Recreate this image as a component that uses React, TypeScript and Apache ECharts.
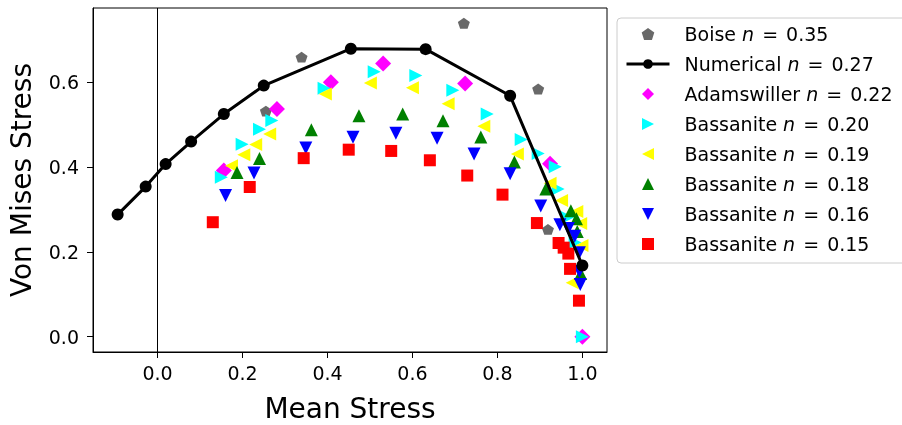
import React, { useEffect, useRef } from "react";
import * as echarts from "echarts";

// ---------- data ----------
const boiseX = [0.255, 0.339, 0.721, 0.896, 0.919];
const boiseY = [0.532, 0.659, 0.739, 0.584, 0.253];

const numericalX = [-0.094, -0.028, 0.019, 0.079, 0.156, 0.25, 0.455, 0.631, 0.83, 1.0];
const numericalY = [0.288, 0.354, 0.407, 0.46, 0.525, 0.592, 0.679, 0.678, 0.568, 0.168];

const adamsX = [0.156, 0.281, 0.408, 0.531, 0.724, 0.924, 1.0];
const adamsY = [0.392, 0.537, 0.6, 0.644, 0.597, 0.408, 0.0];

const bas20X = [0.15, 0.199, 0.24, 0.269, 0.392, 0.51, 0.608, 0.695, 0.776, 0.856, 0.896, 0.936, 0.943, 0.965, 0.983, 1.0];
const bas20Y = [0.376, 0.454, 0.489, 0.51, 0.586, 0.625, 0.616, 0.581, 0.525, 0.465, 0.432, 0.401, 0.348, 0.281, 0.222, 0.0];

const bas19X = [0.174, 0.203, 0.231, 0.264, 0.395, 0.501, 0.6, 0.684, 0.768, 0.847, 0.924, 0.951, 0.987, 0.996, 0.999, 0.976];
const bas19Y = [0.403, 0.429, 0.453, 0.478, 0.572, 0.598, 0.587, 0.549, 0.496, 0.431, 0.362, 0.321, 0.295, 0.267, 0.215, 0.127];

const bas18X = [0.187, 0.24, 0.362, 0.474, 0.577, 0.672, 0.761, 0.84, 0.914, 0.973, 0.986, 0.988, 0.996];
const bas18Y = [0.387, 0.42, 0.488, 0.521, 0.525, 0.509, 0.471, 0.412, 0.348, 0.297, 0.278, 0.248, 0.149];

const bas16X = [0.16, 0.227, 0.349, 0.46, 0.561, 0.658, 0.745, 0.83, 0.902, 0.947, 0.967, 0.982, 0.993, 0.993, 0.995];
const bas16Y = [0.333, 0.386, 0.445, 0.47, 0.48, 0.468, 0.431, 0.384, 0.308, 0.264, 0.255, 0.237, 0.198, 0.154, 0.123];

const bas15X = [0.13, 0.217, 0.344, 0.45, 0.55, 0.641, 0.729, 0.812, 0.893, 0.944, 0.956, 0.967, 0.971, 0.992];
const bas15Y = [0.27, 0.353, 0.421, 0.441, 0.438, 0.416, 0.38, 0.335, 0.268, 0.221, 0.21, 0.196, 0.16, 0.085];

const xTicks = [0.0, 0.2, 0.4, 0.6, 0.8, 1.0];
const yTicks = [0.0, 0.2, 0.4, 0.6];

const seriesNames = [
  "Boise n = 0.35",
  "Numerical n = 0.27",
  "Adamswiller n = 0.22",
  "Bassanite n = 0.20",
  "Bassanite n = 0.19",
  "Bassanite n = 0.18",
  "Bassanite n = 0.16",
  "Bassanite n = 0.15",
];

// ---------- styling ----------
const FONT = "DejaVu Sans";
const PENTAGON = "path://M0,-1L-0.951,-0.309L-0.588,0.809L0.588,0.809L0.951,-0.309Z";
const TRI_RIGHT = "path://M1,0L-1,-1L-1,1Z";
const TRI_LEFT = "path://M-1,0L1,-1L1,1Z";
const TRI_UP = "path://M0,-1L1,1L-1,1Z";
const TRI_DOWN = "path://M0,1L1,-1L-1,-1Z";
const DIAMOND = "path://M0,-1L1,0L0,1L-1,0Z";
const SQUARE = "path://M-1,-1L1,-1L1,1L-1,1Z";

const zip = (xs: number[], ys: number[]) => xs.map((x, i) => [x, ys[i]]);

function scatter(name: string, xs: number[], ys: number[], symbol: string, size: any, color: string) {
  return {
    type: "scatter",
    name,
    data: zip(xs, ys),
    symbol,
    symbolSize: size,
    symbolKeepAspect: true,
    itemStyle: { color, opacity: 1 },
    emphasis: { disabled: true },
  };
}

export default function App() {
  const ref = useRef<HTMLDivElement>(null);
  useEffect(() => {
    if (!ref.current) return;
    const chart = echarts.init(ref.current, undefined, { renderer: "svg" });
    const axisCommon = {
      type: "value",
      splitLine: { show: false },
      axisLine: { show: true, onZero: false, lineStyle: { color: "#000", width: 1 } },
      nameLocation: "middle",
      nameTextStyle: { fontSize: 28, color: "#000", fontFamily: FONT },
    };
    const boise: any = scatter(seriesNames[0], boiseX, boiseY, PENTAGON, [12, 11.4], "#696969");
    boise.markLine = {
      silent: true,
      symbol: ["none", "none"],
      label: { show: false },
      lineStyle: { color: "#000", width: 1, type: "solid" },
      emphasis: { disabled: true },
      data: [{ xAxis: 0 }],
    };
    chart.setOption({
      animation: false,
      textStyle: { fontFamily: FONT },
      grid: {
        left: 93,
        right: 295,
        top: 8,
        bottom: 73,
        show: true,
        borderColor: "#000",
        borderWidth: 1,
        backgroundColor: "transparent",
        outerBoundsMode: "none",
      },
      xAxis: {
        ...axisCommon,
        min: -0.152,
        max: 1.058,
        name: "Mean Stress",
        nameGap: 42,
        axisTick: { show: true, customValues: xTicks, length: 6, lineStyle: { color: "#000" } },
        axisLabel: {
          customValues: xTicks,
          formatter: (v: number) => v.toFixed(1),
          fontSize: 19,
          color: "#000",
          margin: 11,
          fontFamily: FONT,
        },
      },
      yAxis: {
        ...axisCommon,
        min: -0.036,
        max: 0.775,
        name: "Von Mises Stress",
        nameGap: 58,
        axisTick: { show: true, customValues: yTicks, length: 6, lineStyle: { color: "#000" } },
        axisLabel: {
          customValues: yTicks,
          formatter: (v: number) => v.toFixed(1),
          fontSize: 19,
          color: "#000",
          margin: 14,
          fontFamily: FONT,
        },
      },
      legend: {
        left: 617,
        top: 18,
        orient: "vertical",
        padding: [6, 60, 9, 8],
        itemWidth: 43,
        itemHeight: 12,
        itemGap: 10,
        backgroundColor: "#fff",
        borderColor: "#cccccc",
        borderWidth: 1,
        borderRadius: 4,
        symbolKeepAspect: true,
        lineStyle: { width: 3, color: "#000" },
        data: seriesNames,
        formatter: (name: string) => name.replace(" n = ", " {i|n} {s|=} "),
        textStyle: {
          fontSize: 19,
          lineHeight: 20,
          color: "#000",
          fontFamily: FONT,
          padding: [0, 0, 0, 10],
          rich: {
            i: { fontStyle: "italic", fontSize: 19, lineHeight: 20, fontFamily: FONT, color: "#000" },
            s: { fontSize: 19, lineHeight: 20, fontFamily: FONT, color: "#000", padding: [0, 2, 0, 2] },
          },
        },
      },
      series: [
        boise,
        {
          type: "line",
          name: seriesNames[1],
          data: zip(numericalX, numericalY),
          symbol: "circle",
          symbolSize: 12,
          showSymbol: true,
          lineStyle: { color: "#000", width: 3 },
          itemStyle: { color: "#000" },
          emphasis: { disabled: true },
        },
        scatter(seriesNames[2], adamsX, adamsY, DIAMOND, 16, "#ff00ff"),
        scatter(seriesNames[3], bas20X, bas20Y, TRI_RIGHT, 13, "#00ffff"),
        scatter(seriesNames[4], bas19X, bas19Y, TRI_LEFT, 13, "#ffff00"),
        scatter(seriesNames[5], bas18X, bas18Y, TRI_UP, 13, "#008000"),
        scatter(seriesNames[6], bas16X, bas16Y, TRI_DOWN, 13, "#0000ff"),
        scatter(seriesNames[7], bas15X, bas15Y, SQUARE, 12, "#ff0000"),
      ],
    });
    return () => chart.dispose();
  }, []);
  return <div ref={ref} style={{ position: "fixed", left: 0, top: 0, width: 902, height: 425 }} />;
}
